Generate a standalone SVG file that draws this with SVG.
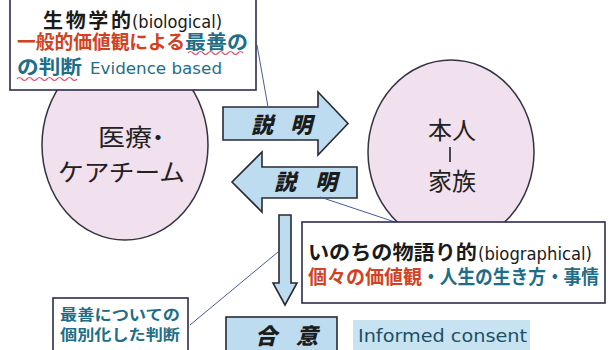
<svg xmlns="http://www.w3.org/2000/svg" width="611" height="350" viewBox="0 0 611 350">
  <defs>
    <style>
      .bg { fill: #ffffff; }
      .party { fill: #f1e0ee; stroke: #333340; stroke-width: 1.5; }
      .party-label { font-family: "Noto Sans CJK JP", "Noto Sans", sans-serif; font-size: 24px; fill: #222222; }
      .arrow { fill: #bddcef; stroke: #2a2a35; stroke-width: 1.6; stroke-linejoin: miter; }
      .arrow-label { font-family: "Noto Sans CJK JP", sans-serif; font-size: 22px; font-weight: 900; font-style: italic; fill: #1c1c1c; text-anchor: middle; }
      .note { fill: #ffffff; stroke: #2c2c4e; stroke-width: 1.6; }
      .callout { stroke: #4b5a9c; stroke-width: 1; fill: none; }
      .jp { font-family: "Noto Sans CJK JP", sans-serif; font-weight: 700; }
      .latin { font-family: "DejaVu Sans", "Noto Sans", sans-serif; font-weight: 400; }
      .black { fill: #1a1a1a; }
      .red { fill: #d2421f; }
      .teal { fill: #1d6e88; }
      .squiggle { fill: none; stroke: #e0506a; stroke-width: 1.2; }
    </style>
  </defs>

  <rect class="bg" x="0" y="0" width="611" height="350"/>

  <!-- parties -->
  <g id="care-team">
    <ellipse class="party" cx="125" cy="145" rx="83" ry="95"/>
    <text class="party-label" x="98" y="146" textLength="54" lengthAdjust="spacingAndGlyphs">医療</text>
    <text class="party-label" x="146" y="146">・</text>
    <text class="party-label" x="58" y="181" textLength="127" lengthAdjust="spacingAndGlyphs">ケアチーム</text>
  </g>
  <g id="patient-family">
    <ellipse class="party" cx="451" cy="152" rx="83" ry="92"/>
    <text class="party-label" x="452" y="139" text-anchor="middle">本人</text>
    <line x1="450" y1="147" x2="450" y2="162" stroke="#222222" stroke-width="1.6"/>
    <text class="party-label" x="452" y="190" text-anchor="middle">家族</text>
  </g>

  <!-- connectors -->
  <g id="connectors">
    <g id="explain-right">
      <path class="arrow" d="M223,107 L318,107 L318,92 L348,123.5 L318,155 L318,140 L223,140 Z"/>
      <text class="arrow-label" x="262" y="133">説</text>
      <text class="arrow-label" x="301" y="133">明</text>
    </g>
    <g id="explain-left">
      <path class="arrow" d="M357,167 L262,167 L262,152 L232,182 L262,212 L262,198 L357,198 Z"/>
      <text class="arrow-label" x="285" y="190">説</text>
      <text class="arrow-label" x="326" y="190">明</text>
    </g>
    <g id="to-consent">
      <path class="arrow" d="M279,215 L291,215 L291,283 L297,283 L285,305 L273,283 L279,283 Z"/>
    </g>
    <line class="callout" x1="257" y1="45" x2="268" y2="107"/>
    <line class="callout" x1="320" y1="197" x2="395" y2="222"/>
    <line class="callout" x1="190" y1="325" x2="278" y2="252"/>
  </g>

  <!-- biological viewpoint -->
  <g id="biological">
    <rect class="note" x="10" y="-4" width="246" height="94"/>
    <text class="jp black" x="43" y="28" font-size="20" textLength="88" lengthAdjust="spacing">生物学的</text>
    <text class="latin black" x="132" y="28" font-size="17" textLength="90" lengthAdjust="spacingAndGlyphs">(biological)</text>
    <text class="jp red" x="17" y="49" font-size="19" textLength="168" lengthAdjust="spacingAndGlyphs">一般的価値観による</text>
    <text class="jp teal" x="185" y="49" font-size="19" textLength="63" lengthAdjust="spacingAndGlyphs">最善の</text>
    <text class="jp teal" x="17" y="74" font-size="19" textLength="65" lengthAdjust="spacingAndGlyphs">の判断</text>
    <text class="latin teal" x="90" y="74" font-size="16" textLength="132" lengthAdjust="spacingAndGlyphs">Evidence based</text>
    <path class="squiggle" d="M188,53 q2.5,-3 5,0 t5,0 t5,0 t5,0 t5,0 t5,0 t5,0 t5,0 t5,0 t5,0 t5,0"/>
    <path class="squiggle" d="M17,79 q2.5,-3 5,0 t5,0 t5,0 t5,0 t5,0 t5,0 t5,0 t5,0 t5,0 t5,0 t5,0 t5,0"/>
  </g>

  <!-- biographical viewpoint -->
  <g id="biographical">
    <rect class="note" x="302" y="222" width="303" height="81"/>
    <text class="jp black" x="308" y="260" font-size="20" textLength="169" lengthAdjust="spacingAndGlyphs">いのちの物語り的</text>
    <text class="latin black" x="478" y="260" font-size="17" textLength="114" lengthAdjust="spacingAndGlyphs">(biographical)</text>
    <text class="jp red" x="308" y="284" font-size="19" textLength="114" lengthAdjust="spacingAndGlyphs">個々の価値観</text>
    <text class="jp teal" x="422" y="284" font-size="19" textLength="177" lengthAdjust="spacingAndGlyphs">・人生の生き方・事情</text>
  </g>

  <!-- individualised judgement -->
  <g id="individualised">
    <rect class="note" x="53" y="298" width="135" height="56"/>
    <text class="jp teal" x="60" y="320" font-size="15" textLength="120" lengthAdjust="spacingAndGlyphs">最善についての</text>
    <text class="jp teal" x="60" y="340" font-size="15" textLength="120" lengthAdjust="spacingAndGlyphs">個別化した判断</text>
  </g>

  <!-- consent -->
  <g id="consent">
    <rect class="arrow" x="226" y="317" width="111" height="40"/>
    <text class="arrow-label" x="266" y="344">合</text>
    <text class="arrow-label" x="307" y="344">意</text>
  </g>
  <g id="informed-consent">
    <rect x="353" y="320" width="177" height="32" fill="#c7e2f0"/>
    <text class="latin" x="358" y="342" font-size="17" textLength="169" lengthAdjust="spacingAndGlyphs" fill="#1e4f66">Informed consent</text>
  </g>
</svg>
